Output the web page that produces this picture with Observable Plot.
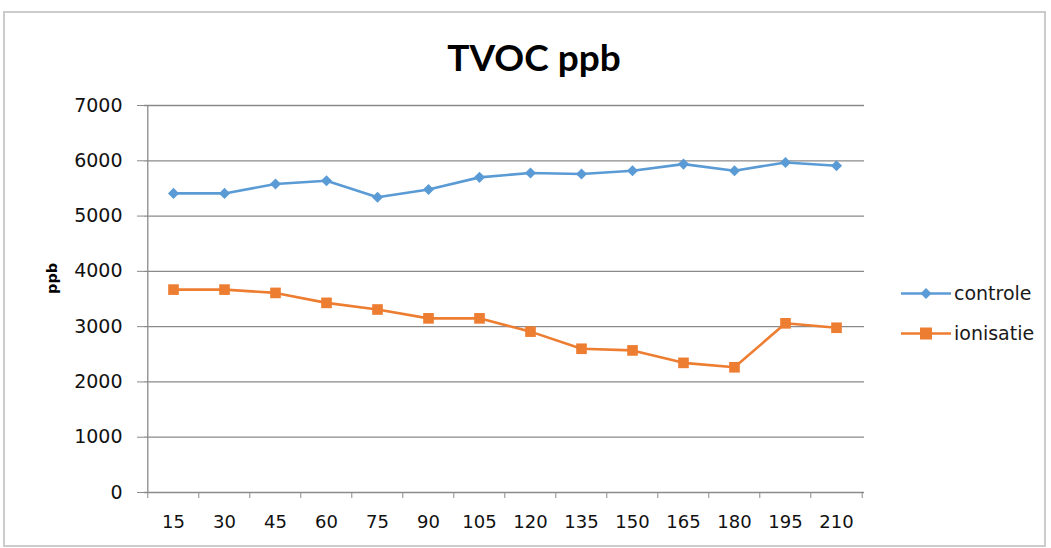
<!DOCTYPE html>
<html><head><meta charset="utf-8">
<script src="https://cdn.jsdelivr.net/npm/d3@7"></script>
<script src="https://cdn.jsdelivr.net/npm/@observablehq/plot@0.6"></script>
<style>
body{margin:0;background:#fff;}
#wrap{position:relative;width:1051px;height:548px;overflow:hidden;font-family:"DejaVu Sans",sans-serif;background:#fff;}
#frame{position:absolute;left:3px;top:11px;width:1043px;height:536px;border:2px solid #cccccc;box-sizing:border-box;}
#title{position:absolute;left:0;width:1068px;top:38px;text-align:center;font-family:Lato,"Open Sans",sans-serif;font-weight:bold;font-size:37px;line-height:1;color:#000;}
#chart{position:absolute;left:0;top:0;}
.leg{position:absolute;left:901px;font-size:19px;color:#1a1a1a;line-height:1;display:flex;align-items:center;}
.leg svg{margin-right:3px;}
</style></head>
<body><div id="wrap"><div id="frame"></div><div id="title">TVOC ppb</div><div id="chart"></div>
<div class="leg" id="leg0" style="top:283px"></div>
<div class="leg" id="leg1" style="top:323px"></div>
</div>
<script>
const minutes = ["15","30","45","60","75","90","105","120","135","150","165","180","195","210"];
const controle = [5410,5410,5580,5640,5340,5480,5700,5780,5760,5820,5940,5820,5970,5910];
const ionisatie = [3670,3670,3610,3430,3310,3150,3150,2910,2600,2570,2345,2265,3060,2980];
const yTicks = [0,1000,2000,3000,4000,5000,6000,7000];
const seriesNames = ["controle","ionisatie"];
const seriesColors = ["#5b9bd5","#ed7d31"];
const yLabel = "ppb";

const rows = [];
minutes.forEach((m,i)=>{ rows.push({t:m,v:controle[i],s:seriesNames[0]}); });
minutes.forEach((m,i)=>{ rows.push({t:m,v:ionisatie[i],s:seriesNames[1]}); });

const W=1051,H=548,mL=144,mR=187,mT=105,mB=56;
const step=(W-mL-mR)/minutes.length;
const font = "'DejaVu Sans',sans-serif";

const chart = Plot.plot({
  width:W,height:H,marginLeft:mL,marginRight:mR,marginTop:mT,marginBottom:mB,
  style:{fontFamily:font,fontSize:"18px",background:"transparent",color:"#000"},
  x:{type:"point",domain:minutes,padding:0.5,axis:null},
  y:{domain:[0,7000],axis:null},
  color:{domain:seriesNames,range:seriesColors},
  marks:[
    Plot.ruleY(yTicks,{stroke:"#8a8a8a",strokeWidth:1.3}),
    Plot.axisY({ticks:yTicks,tickSize:7,tickPadding:15,stroke:"#8a8a8a",fill:"#111",label:null,tickFormat:d=>String(d),fontSize:19}),
    Plot.ruleX([minutes[0]],{y1:0,y2:7000,dx:-step/2,stroke:"#8a8a8a",strokeWidth:1.3}),
    Plot.axisX({ticks:minutes,tickSize:6,tickFormat:()=>"",dx:-step/2,stroke:"#8a8a8a",label:null}),
    Plot.axisX({ticks:[minutes[minutes.length-1]],tickSize:6,tickFormat:()=>"",dx:step/2,stroke:"#8a8a8a",label:null}),
    Plot.axisX({ticks:minutes,tickSize:0,tickPadding:23,fill:"#111",label:null,fontSize:18}),
    Plot.text([yLabel],{frameAnchor:"left",dx:-92,dy:-5,rotate:-90,text:d=>d,fontWeight:"bold",fontSize:14.5,fill:"#000"}),
    Plot.line(rows,{x:"t",y:"v",stroke:"s",z:"s",strokeWidth:2.6}),
    Plot.dot(rows.filter(d=>d.s===seriesNames[0]),{x:"t",y:"v",fill:seriesColors[0],symbol:"diamond2",r:5}),
    Plot.dot(rows.filter(d=>d.s===seriesNames[1]),{x:"t",y:"v",fill:seriesColors[1],symbol:"square",r:6})
  ]
});
document.getElementById("chart").appendChild(chart);

function legSwatch(color, kind){
  const shape = kind==="diamond"
    ? `<polygon points="25,5 30.5,10.5 25,16 19.5,10.5" fill="${color}"/>`
    : `<rect x="19" y="4.5" width="12" height="12" fill="${color}"/>`;
  return `<svg width="50" height="21"><line x1="0" x2="50" y1="10.5" y2="10.5" stroke="${color}" stroke-width="2.6"/>${shape}</svg>`;
}
document.getElementById("leg0").innerHTML = legSwatch(seriesColors[0],"diamond")+`<span>${seriesNames[0]}</span>`;
document.getElementById("leg1").innerHTML = legSwatch(seriesColors[1],"square")+`<span>${seriesNames[1]}</span>`;
</script>
</body></html>
